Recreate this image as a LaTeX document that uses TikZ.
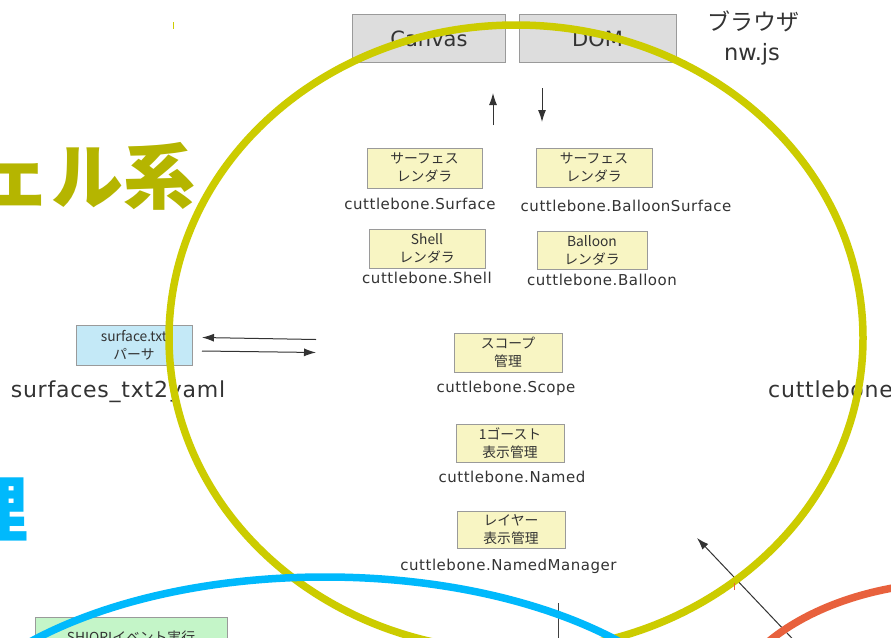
\documentclass[tikz,border=0pt]{standalone}
\usepackage{fontspec}
\setmainfont{DejaVu Sans}
\newfontfamily\jp{Noto Sans CJK JP}
\newfontfamily\lsp[LetterSpace=3.5]{DejaVu Sans}
\usetikzlibrary{arrows.meta}
\definecolor{ylw}{HTML}{CCCC00}
\definecolor{ylwtxt}{HTML}{B5B500}
\definecolor{blu}{HTML}{00B9FC}
\definecolor{orng}{HTML}{E8613D}
\definecolor{boxy}{HTML}{F8F5C3}
\definecolor{boxg}{HTML}{DDDDDD}
\definecolor{boxb}{HTML}{C4E9F7}
\definecolor{boxgr}{HTML}{C4F5C8}
\definecolor{edge}{HTML}{9A9A9A}
\definecolor{txt}{HTML}{333333}
\tikzset{
  rbox/.style={draw=edge, line width=1pt, fill=boxy, align=center, inner sep=0pt,
    font=\jp\fontsize{13.8}{18}\selectfont, text=txt},
  gbox/.style={draw=edge, line width=1pt, fill=boxg, inner sep=0pt,
    font=\fontsize{21}{25}\selectfont, text=txt},
  lbl/.style={font=\lsp\fontsize{15}{18}\selectfont, text=txt, inner sep=0pt, anchor=base},
  bigl/.style={font=\lsp\fontsize{22}{26}\selectfont, text=txt, inner sep=0pt, anchor=base},
  arr/.style={-{Latex[length=12pt,width=8pt]}, line width=1pt, draw=black!80},
  ring/.style={line width=7.5pt},
  huge/.style={font=\jp\bfseries\fontsize{72}{80}\selectfont, inner sep=0pt, anchor=base east}
}
\begin{document}
\begin{tikzpicture}[x=1pt,y=-1pt]
\useasboundingbox (0,0) rectangle (891,637);
\clip (0,0) rectangle (891,637);
\fill[white] (0,0) rectangle (891,637);

% browser
\node[gbox, minimum width=153pt, minimum height=48pt] (canvas) at (429,38.5) {Canvas};
\node[gbox, minimum width=157pt, minimum height=48pt] (dom) at (597.5,38.5) {DOM};
\node[font=\jp\fontsize{23}{26}\selectfont, text=txt, inner sep=0pt] (browser) at (753,21) {ブラウザ};
\node[bigl, font=\fontsize{22.5}{26}\selectfont] (nwjs) at (752,60) {nw.js};

\coordinate (upT) at (493,125); \coordinate (upH) at (493,93);
\coordinate (dnT) at (542,88); \coordinate (dnH) at (542,122);
\draw[arr] (upT) -- (upH);
\draw[arr] (dnT) -- (dnH);

% renderers
\node[rbox, minimum width=115pt, minimum height=40pt] (surf) at (424.5,168) {サーフェス\\レンダラ};
\node[lbl] (surfL) at (420,209) {cuttlebone.Surface};
\node[rbox, minimum width=116pt, minimum height=39pt] (bsurf) at (594,167.5) {サーフェス\\レンダラ};
\node[lbl] (bsurfL) at (626,211) {cuttlebone.BalloonSurface};
\node[rbox, minimum width=116pt, minimum height=39pt] (shell) at (427,248.5) {Shell\\レンダラ};
\node[lbl] (shellL) at (427,283) {cuttlebone.Shell};
\node[rbox, minimum width=110pt, minimum height=38pt] (balloon) at (592,250) {Balloon\\レンダラ};
\node[lbl] (balloonL) at (602,285) {cuttlebone.Balloon};

\node[rbox, minimum width=108pt, minimum height=39pt] (scope) at (508,352.5) {スコープ\\管理};
\node[lbl] (scopeL) at (506,392) {cuttlebone.Scope};
\node[rbox, minimum width=108pt, minimum height=38pt] (named) at (510,443) {1ゴースト\\表示管理};
\node[lbl] (namedL) at (512,482) {cuttlebone.Named};
\node[rbox, minimum width=108pt, minimum height=37pt] (nm) at (511,529.5) {レイヤー\\表示管理};
\node[lbl] (nmL) at (508.5,570) {cuttlebone.NamedManager};

% parser
\node[rbox, fill=boxb, minimum width=116pt, minimum height=40pt] (parser) at (134,345) {surface.txt\\パーサ};
\node[bigl] (parserL) at (118,397) {surfaces\_txt2yaml};
\coordinate (inT) at (316,339.5); \coordinate (inH) at (202,337.5);
\coordinate (outT) at (202,351); \coordinate (outH) at (316,352.5);
\draw[arr] (inT) -- (inH);
\draw[arr] (outT) -- (outH);

\node[bigl, anchor=base west] (cbone) at (768,397) {cuttlebone};

% shiori
\node[rbox, fill=boxgr, minimum width=192pt, minimum height=40pt] (shiori) at (131,637) {SHIORIイベント実行};

% other connectors
\coordinate (vT) at (558,603); \coordinate (vB) at (558,645);
\draw[line width=1pt, draw=black!75] (vT) -- (vB);
\coordinate (dT) at (805,652); \coordinate (dH) at (697,538);
\draw[arr] (dT) -- (dH);

% big titles
\node[huge, text=ylwtxt] (shellsys) at (196,203) {ェル系};
\node[huge, text=blu] (mgr) at (29,536) {理};

% rings
\draw[ring, ylw] (516,338) ellipse [x radius=347pt, y radius=313pt];
\draw[ring, blu] (325,777) ellipse [x radius=400pt, y radius=200pt];
\draw[ring, orng] (960,732) ellipse [x radius=240pt, y radius=150pt];

% small ticks
\draw[ylw, line width=1pt] (173,22) -- (173,29);
\draw[orng, line width=1pt] (734,583) -- (734,590);
\end{tikzpicture}
\end{document}
